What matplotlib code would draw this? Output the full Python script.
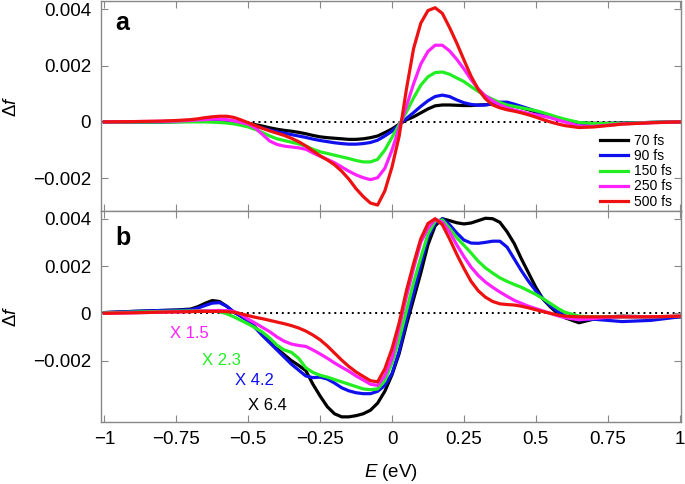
import numpy as np
import matplotlib
matplotlib.use("Agg")
import matplotlib.pyplot as plt

plt.rcParams['font.family'] = ['Liberation Sans', 'DejaVu Sans']
plt.rcParams['mathtext.fontset'] = 'custom'
plt.rcParams['mathtext.rm'] = 'Liberation Sans'
plt.rcParams['mathtext.it'] = 'Liberation Sans:italic'

# photon energy grid (eV), shared by all traces
E = [-1.0, -0.9, -0.8, -0.75, -0.7,
     -0.675, -0.65, -0.625, -0.6, -0.575, -0.55, -0.525, -0.5,
     -0.475, -0.45, -0.425, -0.4, -0.375, -0.35, -0.325, -0.3,
     -0.275, -0.25, -0.225, -0.2, -0.175, -0.15, -0.125, -0.1,
     -0.075, -0.05, -0.025, 0.0, 0.025, 0.05, 0.075, 0.1,
     0.125, 0.15, 0.175, 0.2, 0.225, 0.25, 0.275, 0.3,
     0.325, 0.35, 0.375, 0.4, 0.425, 0.45, 0.475, 0.5,
     0.525, 0.55, 0.575, 0.6, 0.65, 0.7, 0.75, 0.8,
     0.9, 1.0]

labels = ['70 fs', '90 fs', '150 fs', '250 fs', '500 fs']
colors = ['#000000', '#1010ee', '#22ee22', '#ff22ff', '#ee1111']

# panel a, delta f in units of 1e-3
a_70 = [0, 0, 0, 0.01, 0.02,
        0.03, 0.03, 0.03, 0.02, 0.01, 0.0, -0.02, -0.05,
        -0.1, -0.15, -0.21, -0.26, -0.3, -0.33, -0.37, -0.42,
        -0.48, -0.53, -0.56, -0.58, -0.6, -0.62, -0.62, -0.6,
        -0.56, -0.5, -0.38, -0.25, -0.08, 0.07, 0.18, 0.32,
        0.46, 0.57, 0.6, 0.6, 0.59, 0.58, 0.58, 0.6,
        0.61, 0.63, 0.63, 0.6, 0.56, 0.5, 0.43, 0.35,
        0.26, 0.18, 0.11, 0.05, -0.03, -0.05, -0.05, -0.04,
        -0.02, 0]
a_90 = [0, 0, 0, 0.01, 0.02,
        0.03, 0.04, 0.04, 0.03, 0.02, 0.0, -0.03, -0.08,
        -0.15, -0.22, -0.29, -0.35, -0.4, -0.45, -0.5, -0.55,
        -0.61, -0.66, -0.7, -0.74, -0.77, -0.79, -0.79, -0.77,
        -0.73, -0.65, -0.5, -0.33, -0.1, 0.12, 0.33, 0.55,
        0.75, 0.9, 0.95, 0.9, 0.78, 0.68, 0.62, 0.59,
        0.6, 0.64, 0.7, 0.7, 0.63, 0.55, 0.47, 0.38,
        0.29, 0.2, 0.12, 0.05, -0.04, -0.07, -0.06, -0.05,
        -0.02, 0]
a_150 = [0, 0, 0, 0, 0,
         0, 0, -0.01, -0.02, -0.04, -0.07, -0.12, -0.18,
         -0.27, -0.38, -0.5, -0.6, -0.66, -0.72, -0.78, -0.86,
         -0.97, -1.06, -1.12, -1.18, -1.24, -1.3, -1.37, -1.42,
         -1.42, -1.33, -1.0, -0.55, -0.1, 0.35, 0.85, 1.3,
         1.6, 1.75, 1.77, 1.69, 1.56, 1.43, 1.25, 1.08,
         0.93, 0.8, 0.69, 0.6, 0.55, 0.5, 0.45, 0.4,
         0.33, 0.25, 0.17, 0.1, -0.02, -0.06, -0.06, -0.05,
         -0.02, 0]
a_250 = [0, 0.01, 0.02, 0.03, 0.05,
         0.07, 0.08, 0.1, 0.1, 0.08, 0.04, -0.02, -0.08,
         -0.22, -0.45, -0.68, -0.8, -0.86, -0.89, -0.92, -0.97,
         -1.1, -1.22, -1.33, -1.45, -1.6, -1.75, -1.88, -1.98,
         -2.05, -1.98, -1.65, -1.0, -0.2, 0.55, 1.35, 2.05,
         2.5, 2.72, 2.72, 2.52, 2.22, 1.88, 1.5, 1.17,
         0.92, 0.75, 0.6, 0.5, 0.42, 0.36, 0.3, 0.25,
         0.2, 0.15, 0.07, 0.0, -0.15, -0.16, -0.12, -0.07,
         -0.03, 0]
a_500 = [0, 0.01, 0.03, 0.05, 0.08,
         0.11, 0.15, 0.18, 0.2, 0.2, 0.16, 0.07, -0.03,
         -0.13, -0.23, -0.32, -0.4, -0.48, -0.58, -0.7, -0.85,
         -1.03, -1.2, -1.35, -1.52, -1.75, -2.03, -2.37, -2.65,
         -2.88, -2.95, -2.45, -1.6, -0.5, 1.15, 2.6, 3.5,
         3.95, 4.05, 3.85, 3.35, 2.8, 2.2, 1.62, 1.15,
         0.82, 0.6, 0.5, 0.43, 0.38, 0.32, 0.25, 0.17,
         0.08, 0.0, -0.07, -0.13, -0.2, -0.18, -0.13, -0.08,
         -0.03, 0]

# panel b, scaled traces (units of 1e-3)
b_70 = [0.03, 0.08, 0.12, 0.14, 0.18,
        0.28, 0.42, 0.54, 0.5, 0.3, 0.05, -0.12, -0.3,
        -0.6, -0.9, -1.2, -1.5, -1.75, -2.0, -2.2, -2.42,
        -3.0, -3.5, -3.95, -4.25, -4.38, -4.38, -4.33, -4.25,
        -4.1, -3.8, -3.3, -2.6, -1.7, -0.5, 0.6, 1.7,
        2.9, 3.7, 4.0, 3.92, 3.83, 3.78, 3.82, 3.92,
        4.02, 4.0, 3.85, 3.45, 2.95, 2.3, 1.7, 1.1,
        0.6, 0.28, 0.0, -0.18, -0.4, -0.25, -0.15, -0.12,
        -0.15, -0.15]
b_90 = [0.03, 0.08, 0.12, 0.13, 0.15,
        0.22, 0.33, 0.43, 0.45, 0.3, 0.05, -0.13, -0.32,
        -0.62, -0.95, -1.25, -1.55, -1.85, -2.15, -2.4, -2.65,
        -2.72, -2.7, -2.78, -2.95, -3.15, -3.28, -3.36, -3.4,
        -3.4, -3.3, -3.05, -2.55, -1.6, -0.3, 0.85, 2.05,
        3.2, 3.8, 4.0, 3.75, 3.4, 3.1, 2.97, 2.96,
        3.0, 3.05, 3.05, 2.8, 2.3, 1.8, 1.35, 0.95,
        0.62, 0.33, 0.08, -0.1, -0.28, -0.25, -0.3, -0.35,
        -0.3, -0.15]
b_150 = [0.02, 0.05, 0.08, 0.09, 0.1,
         0.1, 0.1, 0.09, 0.07, -0.02, -0.15, -0.3, -0.45,
         -0.62, -0.8, -1.05, -1.35, -1.55, -1.65, -1.9, -2.3,
         -2.5, -2.62, -2.7, -2.8, -2.9, -3.0, -3.1, -3.2,
         -3.23, -3.2, -2.85, -2.1, -1.1, 0.1, 1.3, 2.35,
         3.35, 3.9, 3.95, 3.6, 3.2, 2.88, 2.55, 2.2,
         1.92, 1.7, 1.5, 1.35, 1.22, 1.1, 0.95, 0.8,
         0.62, 0.42, 0.22, 0.05, -0.12, -0.15, -0.15, -0.15,
         -0.15, -0.12]
b_250 = [0.0, 0.02, 0.05, 0.06, 0.08,
         0.09, 0.1, 0.11, 0.12, 0.11, 0.08, -0.05, -0.25,
         -0.42, -0.6, -0.78, -1.0, -1.18, -1.3, -1.36, -1.4,
         -1.55, -1.72, -1.9, -2.1, -2.28, -2.45, -2.65, -2.82,
         -3.0, -3.05, -2.65, -1.9, -0.6, 0.7, 1.9, 3.0,
         3.6, 3.98, 3.85, 3.45, 2.9, 2.4, 1.95, 1.6,
         1.32, 1.1, 0.9, 0.72, 0.55, 0.42, 0.3, 0.2,
         0.1, 0.0, -0.1, -0.18, -0.27, -0.22, -0.17, -0.15,
         -0.15, -0.12]
b_500 = [0.0, 0.02, 0.05, 0.06, 0.07,
         0.08, 0.08, 0.08, 0.08, 0.07, 0.05, -0.02, -0.1,
         -0.17, -0.23, -0.3, -0.37, -0.44, -0.52, -0.62, -0.75,
         -0.92, -1.12, -1.38, -1.68, -1.98, -2.25, -2.48, -2.67,
         -2.85, -2.9, -2.35, -1.5, -0.4, 0.95, 2.1, 3.15,
         3.8, 4.0, 3.75, 3.15, 2.5, 1.9, 1.35, 0.95,
         0.68, 0.5, 0.4, 0.37, 0.35, 0.3, 0.23, 0.15,
         0.07, 0.0, -0.07, -0.12, -0.15, -0.15, -0.15, -0.15,
         -0.15, -0.12]

scale_labels = ['X 1.5', 'X 2.3', 'X 4.2', 'X 6.4']
scale_colors = ['#ff22ff', '#22ee22', '#1010ee', '#000000']
scale_pos = [(-0.771, -0.00105), (-0.661, -0.00218), (-0.545, -0.00302), (-0.499, -0.00407)]

xticks = [-1, -0.75, -0.5, -0.25, 0, 0.25, 0.5, 0.75, 1]
xticklabels = ['\u22121', '\u22120.75', '\u22120.5', '\u22120.25', '0', '0.25', '0.5', '0.75', '1']
yticks = [-0.002, 0, 0.002, 0.004]
yticklabels = ['\u22120.002', '0', '0.002', '0.004']

fig = plt.figure(figsize=(6.85, 4.84), dpi=100)
left, width = 0.1474, 0.8468
ax_a = fig.add_axes([left, 0.5647, width, 0.4333])
ax_b = fig.add_axes([left, 0.1275, width, 0.4372])

series_a = [a_70, a_90, a_150, a_250, a_500]
series_b = [b_70, b_90, b_150, b_250, b_500]
E = np.array(E)

for ax in (ax_a, ax_b):
    ax.axhline(0, color='black', lw=1.4, ls=(0, (1, 2)), zorder=1)

for vals, c, lab in zip(series_a, colors, labels):
    ax_a.plot(E, np.array(vals) * 1e-3, color=c, lw=2.3, label=lab, zorder=2,
              solid_joinstyle='round')
for vals, c in zip(series_b, colors):
    ax_b.plot(E, np.array(vals) * 1e-3, color=c, lw=2.3, zorder=2,
              solid_joinstyle='round')

for t, c, (x, y) in zip(scale_labels, scale_colors, scale_pos):
    ax_b.text(x, y, t, color=c, fontsize=12, ha='left', va='baseline')

ax_a.set_ylim(-0.00315, 0.00429)
ax_b.set_ylim(-0.00461, 0.00434)

for ax in (ax_a, ax_b):
    ax.set_xlim(-1.012, 1.005)
    ax.set_xticks(xticks)
    ax.set_yticks(yticks)
    ax.set_yticklabels(yticklabels)
    ax.tick_params(direction='in', top=True, right=True, length=5,
                   color='#888888', labelsize=13.5, pad=7)
    ax.tick_params(axis='x', pad=6)
    for s in ax.spines.values():
        s.set_color('#888888')
        s.set_linewidth(1.0)
    ax.set_ylabel('\u0394$\\mathit{f}$', fontsize=13.5)
    ax.yaxis.set_label_coords(-0.14, 0.5)

ax_a.set_xticklabels([])
ax_b.set_xticklabels(xticklabels)
ax_b.set_xlabel('$\\mathit{E}$ (eV)', fontsize=13.5)
ax_b.xaxis.set_label_coords(0.5, -0.19)

ax_a.text(0.024, 0.862, 'a', transform=ax_a.transAxes, fontsize=18,
          fontweight='bold', va='baseline')
ax_b.text(0.024, 0.838, 'b', transform=ax_b.transAxes, fontsize=18,
          fontweight='bold', va='baseline')

ax_a.legend(loc='lower left', bbox_to_anchor=(0.86, 0.01), frameon=False,
            fontsize=10, handlelength=2.0, handletextpad=0.45,
            labelspacing=0.08, borderpad=0, borderaxespad=0)

fig.savefig('out.png', dpi=100)
